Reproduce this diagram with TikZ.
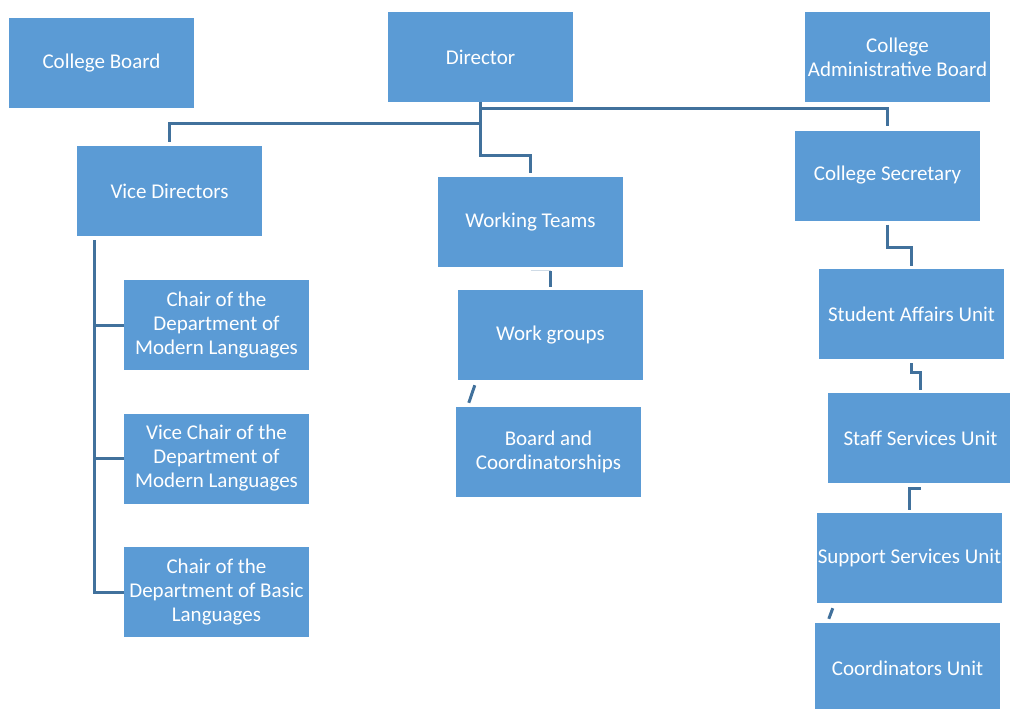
\documentclass[tikz,border=0pt]{standalone}
\usepackage{fontspec}
\setmainfont{Carlito}
\usetikzlibrary{positioning}
\definecolor{boxblue}{RGB}{91,155,213}
\definecolor{linkblue}{RGB}{65,113,156}

\begin{document}
\begin{tikzpicture}[
    x=1pt, y=-1pt,
    unitnode/.style={fill=boxblue, text=white, minimum width=185pt, minimum height=90pt,
        inner sep=0pt, align=center, font=\fontsize{21}{24}\selectfont},
    link/.style={draw=linkblue, line width=3pt},
    faintlink/.style={draw=linkblue!25, line width=1pt}
]
\useasboundingbox (0,0) rectangle (1010,709);

% Top row
\node[unitnode] (board) at (101.5,63) {College Board};
\node[unitnode] (director) at (480.5,57) {Director};
\node[unitnode] (admin) at (897.5,57) {College\\Administrative Board};

% Second row
\node[unitnode] (vice) at (169.5,191) {Vice Directors};
\node[unitnode] (teams) at (530.5,222) {Working Teams};
\node[unitnode] (secretary) at (887.5,175.5) {College Secretary};

% Departments
\node[unitnode] (chairmod) at (216.5,325) {Chair of the\\Department of\\Modern Languages};
\node[unitnode] (vicechair) at (216.5,458.5) {Vice Chair of the\\Department of\\Modern Languages};
\node[unitnode] (chairbasic) at (216.5,592) {Chair of the\\Department of Basic\\Languages};

% Teams
\node[unitnode] (groups) at (550.5,335) {Work groups};
\node[unitnode] (coordship) at (548.5,452) {Board and\\Coordinatorships};

% Units
\node[unitnode] (student) at (911.5,314) {Student Affairs Unit};
\node[unitnode] (staff) at (920.5,438) {Staff Services Unit};
\node[unitnode] (support) at (909.5,558) {Support Services Unit};
\node[unitnode] (coord) at (907.5,668) {Coordinators Unit};

% Director links
\draw[link] (director.south) -- ++(0,53) -| ([yshift=4pt]teams.north);
\draw[link] (director.south) ++(0,21) -| ([yshift=4pt]vice.north);
\draw[link] (director.south) ++(0,6) -| ([yshift=4pt]secretary.north);

% Vice directors bus
\draw[link] ([xshift=-75.5pt,yshift=-4pt]vice.south) |- (chairbasic.west);
\draw[link] (chairmod.west) -- ++(-30,0);
\draw[link] (vicechair.west) -- ++(-30,0);

% Working teams chain
\draw[faintlink] ([yshift=-3pt]teams.south) -- ++(20,0);
\draw[link] ([xshift=20pt,yshift=-4pt]teams.south) -- ([xshift=20pt,yshift=3pt]teams.south |- groups.north);
\draw[link] ([xshift=17pt,yshift=-5pt]groups.south west) -- ([xshift=13pt,yshift=4pt]coordship.north west);

% Secretary chain
\draw[link] ([yshift=-4pt]secretary.south) -- ++(0,23) -| ([yshift=3pt]student.north);
\draw[link] ([yshift=-4pt]student.south) -- ++(0,9) -| ([yshift=3pt]staff.north);
\draw[link] ([yshift=-5pt]staff.south) -| ([yshift=3pt]support.north);
\draw[link] ([xshift=16pt,yshift=-5pt]support.south west) -- ([xshift=14pt,yshift=4pt]coord.north west);

\end{tikzpicture}
\end{document}
